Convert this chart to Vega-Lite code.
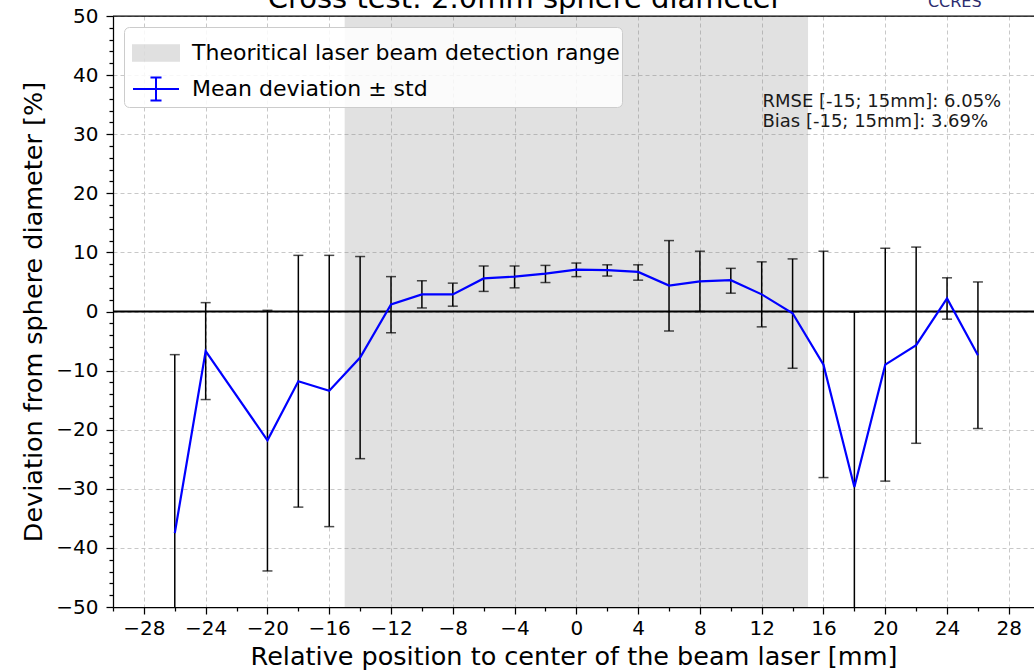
{
  "$schema": "https://vega.github.io/schema/vega-lite/v6.json",
  "width": 921,
  "height": 591,
  "autosize": {"type": "none"},
  "padding": {"left": 113, "top": 16, "right": 0, "bottom": 64},
  "background": "white",
  "config": {
    "view": {"stroke": null},
    "font": "DejaVu Sans",
    "axis": {
      "domainColor": "black",
      "domainWidth": 1.25,
      "tickColor": "black",
      "tickWidth": 1.25,
      "tickCount": 200,
      "format": "d",
      "labelFont": "DejaVu Sans",
      "labelFontSize": 20,
      "labelColor": "black",
      "labelOverlap": false,
      "labelFlush": false,
      "titleFont": "DejaVu Sans",
      "titleFontSize": 25.5,
      "titleFontWeight": "normal",
      "titleColor": "black",
      "gridColor": "#c8c8c8",
      "gridDash": [4, 3],
      "gridWidth": 1
    },
    "legend": {
      "title": null,
      "labelFont": "DejaVu Sans",
      "labelFontSize": 22,
      "labelColor": "black",
      "labelLimit": 600,
      "padding": 2,
      "rowPadding": -12,
      "labelOffset": 12,
      "symbolOffset": 6,
      "fillColor": "rgba(255,255,255,0.85)",
      "strokeColor": "#cccccc",
      "cornerRadius": 5,
      "symbolSize": 2116,
      "symbolStrokeWidth": 2
    }
  },
  "datasets": {
    "deviation": [
      {"pos": -26, "mean": -37.5, "lo": -67.7, "hi": -7.3},
      {"pos": -24, "mean": -6.7, "lo": -14.9, "hi": 1.5},
      {"pos": -20, "mean": -21.8, "lo": -43.9, "hi": 0.2},
      {"pos": -18, "mean": -11.8, "lo": -33.1, "hi": 9.5},
      {"pos": -16, "mean": -13.4, "lo": -36.4, "hi": 9.5},
      {"pos": -14, "mean": -7.8, "lo": -24.9, "hi": 9.3},
      {"pos": -12, "mean": 1.2, "lo": -3.6, "hi": 5.9},
      {"pos": -10, "mean": 2.9, "lo": 0.6, "hi": 5.2},
      {"pos": -8, "mean": 2.9, "lo": 0.9, "hi": 4.8},
      {"pos": -6, "mean": 5.6, "lo": 3.4, "hi": 7.7},
      {"pos": -4, "mean": 5.9, "lo": 4.0, "hi": 7.7},
      {"pos": -2, "mean": 6.4, "lo": 4.9, "hi": 7.8},
      {"pos": 0, "mean": 7.1, "lo": 5.9, "hi": 8.2},
      {"pos": 2, "mean": 7.0, "lo": 6.0, "hi": 7.9},
      {"pos": 4, "mean": 6.7, "lo": 5.3, "hi": 7.9},
      {"pos": 6, "mean": 4.4, "lo": -3.3, "hi": 12.0},
      {"pos": 8, "mean": 5.1, "lo": 0.0, "hi": 10.2},
      {"pos": 10, "mean": 5.3, "lo": 3.1, "hi": 7.3},
      {"pos": 12, "mean": 2.9, "lo": -2.6, "hi": 8.4},
      {"pos": 14, "mean": -0.3, "lo": -9.6, "hi": 8.9},
      {"pos": 16, "mean": -9.0, "lo": -28.1, "hi": 10.2},
      {"pos": 18, "mean": -29.7, "lo": -59.3, "hi": -0.1},
      {"pos": 20, "mean": -9.0, "lo": -28.7, "hi": 10.7},
      {"pos": 22, "mean": -5.7, "lo": -22.3, "hi": 10.9},
      {"pos": 24, "mean": 2.2, "lo": -1.3, "hi": 5.7},
      {"pos": 26, "mean": -7.4, "lo": -19.8, "hi": 5.0}
    ],
    "range": [
      {"start": -15, "end": 15, "label": "Theoritical laser beam detection range"}
    ]
  },
  "layer": [
    {
      "data": {"name": "range"},
      "mark": {"type": "rect", "fillOpacity": 0.24},
      "encoding": {
        "x": {
          "field": "start",
          "type": "quantitative",
          "title": "Relative position to center of the beam laser [mm]",
          "scale": {"domain": [-30, 29.63], "nice": false, "zero": false},
          "axis": {
            "values": [-30, -28, -26, -24, -22, -20, -18, -16, -14, -12, -10, -8, -6, -4, -2, 0, 2, 4, 6, 8, 10, 12, 14, 16, 18, 20, 22, 24, 26, 28],
            "tickCount": 200,
            "format": "d",
            "labelExpr": "datum.value % 4 === 0 ? datum.label : ''",
            "tickSize": {"condition": {"test": "datum.value % 4 === 0", "value": 7}, "value": 4},
            "gridOpacity": {"condition": {"test": "datum.value % 4 === 0", "value": 1}, "value": 0},
            "grid": true,
            "labelPadding": 4,
            "titlePadding": 6
          }
        },
        "x2": {"field": "end"},
        "color": {
          "field": "label",
          "type": "nominal",
          "scale": {
            "domain": ["Theoritical laser beam detection range", "Mean deviation ± std"],
            "range": ["#808080", "#0000ff"]
          },
          "legend": {
            "orient": "top-left",
            "offset": 11,
            "symbolType": {"expr": "datum.value === 'Mean deviation ± std' ? 'M-1,0H1M0,-0.5V0.5M-0.24,-0.5H0.24M-0.24,0.5H0.24' : 'M-1,-0.34H1V0.34H-1Z'"},
            "symbolStrokeColor": {"expr": "datum.value === 'Mean deviation ± std' ? '#0000ff' : 'transparent'"},
            "symbolOpacity": {"expr": "datum.value === 'Mean deviation ± std' ? 1 : 0.24"}
          }
        }
      }
    },
    {
      "data": {"values": [{}]},
      "mark": {"type": "rule", "color": "black", "strokeWidth": 2},
      "encoding": {"y": {"datum": 0, "type": "quantitative"}}
    },
    {
      "data": {"values": [{}]},
      "mark": {"type": "rule", "color": "black", "strokeWidth": 1.25},
      "encoding": {"y": {"datum": 50, "type": "quantitative"}}
    },
    {
      "data": {"name": "deviation"},
      "mark": {"type": "rule", "color": "black", "strokeWidth": 1.5, "clip": true},
      "encoding": {
        "x": {"field": "pos", "type": "quantitative", "title": "Relative position to center of the beam laser [mm]"},
        "y": {"field": "lo", "type": "quantitative", "title": "Deviation from sphere diameter [%]"},
        "y2": {"field": "hi"}
      }
    },
    {
      "data": {"name": "deviation"},
      "mark": {"type": "tick", "orient": "horizontal", "color": "black", "size": 10, "thickness": 1.5, "clip": true},
      "encoding": {
        "x": {"field": "pos", "type": "quantitative", "title": "Relative position to center of the beam laser [mm]"},
        "y": {"field": "lo", "type": "quantitative", "title": "Deviation from sphere diameter [%]"}
      }
    },
    {
      "data": {"name": "deviation"},
      "mark": {"type": "tick", "orient": "horizontal", "color": "black", "size": 10, "thickness": 1.5, "clip": true},
      "encoding": {
        "x": {"field": "pos", "type": "quantitative", "title": "Relative position to center of the beam laser [mm]"},
        "y": {"field": "hi", "type": "quantitative", "title": "Deviation from sphere diameter [%]"}
      }
    },
    {
      "data": {"name": "deviation"},
      "mark": {"type": "line", "strokeWidth": 2.2, "clip": true},
      "encoding": {
        "x": {"field": "pos", "type": "quantitative", "title": "Relative position to center of the beam laser [mm]"},
        "y": {
          "field": "mean",
          "type": "quantitative",
          "title": "Deviation from sphere diameter [%]",
          "scale": {"domain": [-50, 50], "nice": false, "zero": false},
          "axis": {
            "values": [-50, -48, -46, -44, -42, -40, -38, -36, -34, -32, -30, -28, -26, -24, -22, -20, -18, -16, -14, -12, -10, -8, -6, -4, -2, 0, 2, 4, 6, 8, 10, 12, 14, 16, 18, 20, 22, 24, 26, 28, 30, 32, 34, 36, 38, 40, 42, 44, 46, 48, 50],
            "tickCount": 200,
            "format": "d",
            "labelExpr": "datum.value % 10 === 0 ? datum.label : ''",
            "tickSize": {"condition": {"test": "datum.value % 10 === 0", "value": 7}, "value": 4},
            "gridOpacity": {"condition": {"test": "datum.value % 10 === 0", "value": 1}, "value": 0},
            "grid": true,
            "labelPadding": 8,
            "titlePadding": 9
          }
        },
        "color": {"datum": "Mean deviation ± std"}
      }
    },
    {
      "data": {"values": [{}]},
      "mark": {"type": "text", "align": "left", "baseline": "middle", "font": "DejaVu Sans", "fontSize": 18, "color": "#1a1a1a"},
      "encoding": {
        "x": {"datum": 12.05, "type": "quantitative"},
        "y": {"datum": 35.45, "type": "quantitative"},
        "text": {"value": "RMSE [-15; 15mm]: 6.05%"}
      }
    },
    {
      "data": {"values": [{}]},
      "mark": {"type": "text", "align": "left", "baseline": "middle", "font": "DejaVu Sans", "fontSize": 18, "color": "#1a1a1a"},
      "encoding": {
        "x": {"datum": 12.05, "type": "quantitative"},
        "y": {"datum": 32.05, "type": "quantitative"},
        "text": {"value": "Bias [-15; 15mm]: 3.69%"}
      }
    },
    {
      "data": {"values": [{}]},
      "mark": {"type": "text", "align": "center", "baseline": "alphabetic", "font": "DejaVu Sans", "fontSize": 29, "color": "black"},
      "encoding": {
        "x": {"datum": -3.32, "type": "quantitative"},
        "y": {"datum": 51.35, "type": "quantitative"},
        "text": {"value": "Cross test: 2.0mm sphere diameter"}
      }
    },
    {
      "data": {"values": [{}]},
      "mark": {"type": "text", "align": "center", "baseline": "alphabetic", "font": "DejaVu Sans", "fontSize": 16, "color": "#2c2c6e"},
      "encoding": {
        "x": {"datum": 24.5, "type": "quantitative"},
        "y": {"datum": 51.6, "type": "quantitative"},
        "text": {"value": "CCRES"}
      }
    }
  ]
}
